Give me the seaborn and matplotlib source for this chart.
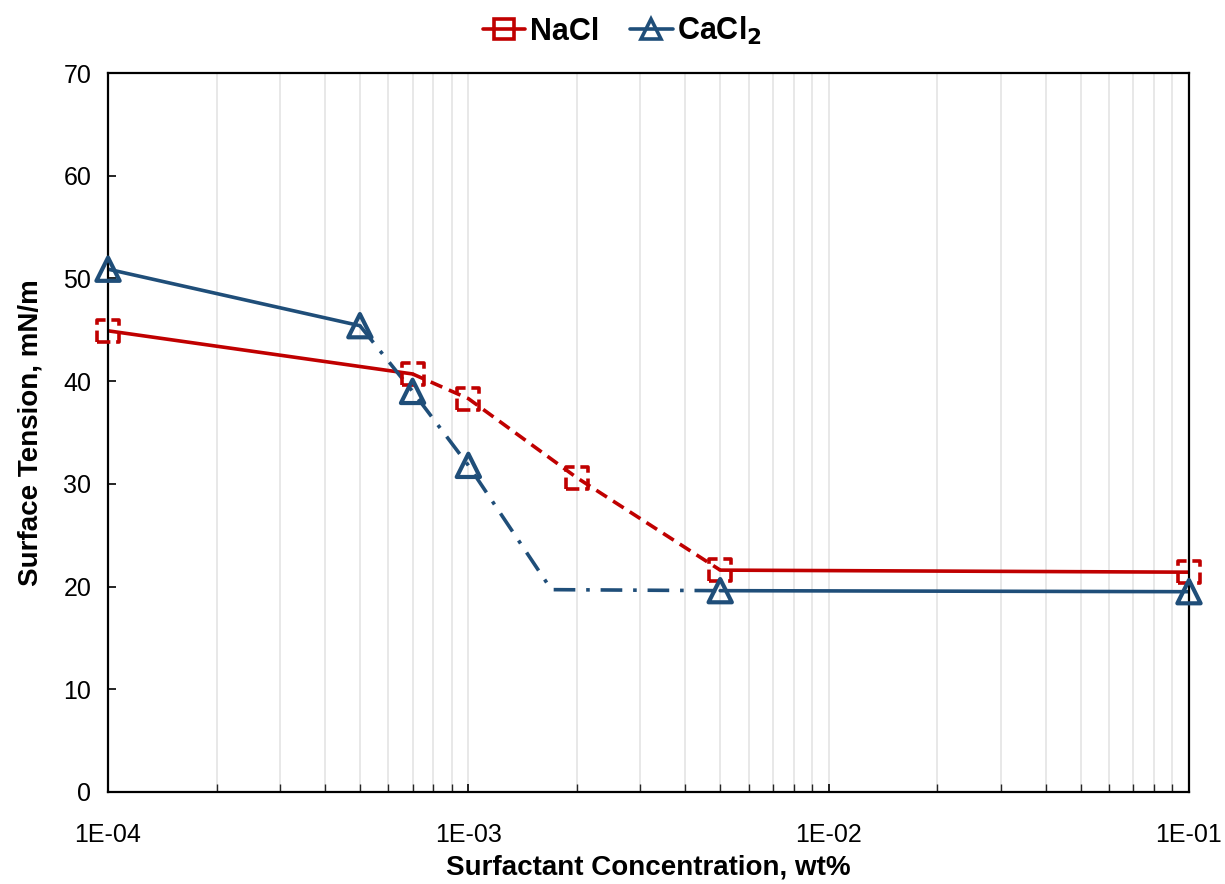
import matplotlib
matplotlib.use('Agg')
import matplotlib.pyplot as plt
from matplotlib.lines import Line2D
from matplotlib.ticker import LogLocator, NullFormatter
import seaborn as sns
import pandas as pd

# Data
nacl_conc = [1e-4, 7e-4, 1e-3, 2e-3, 5e-3, 0.1]
nacl_st = [44.9, 40.7, 38.3, 30.6, 21.6, 21.4]

cacl2_conc = [1e-4, 5e-4, 7e-4, 1e-3, 5e-3, 0.1]
cacl2_st = [50.9, 45.4, 39.0, 31.8, 19.6, 19.5]
# break point of the CaCl2 trend line (no marker)
cacl2_break_conc = 1.7e-3
cacl2_break_st = 19.7

x_ticks = [1e-4, 1e-3, 1e-2, 1e-1]
x_ticklabels = ['1E-04', '1E-03', '1E-02', '1E-01']
y_ticks = [0, 10, 20, 30, 40, 50, 60, 70]

red = '#c00000'
blue = '#1f4e79'

sns.set_style('white')
plt.rcParams['font.family'] = ['Liberation Sans', 'DejaVu Sans']
plt.rcParams['text.color'] = 'black'
plt.rcParams['axes.labelcolor'] = 'black'

fig = plt.figure(figsize=(12.25, 8.84), dpi=100)
ax = fig.add_axes([0.0882, 0.1041, 0.8824, 0.8133])

# NaCl segments: solid, dashed, solid
sns.lineplot(x=nacl_conc[0:2], y=nacl_st[0:2], ax=ax, color=red, lw=2.6, linestyle='-')
sns.lineplot(x=nacl_conc[1:5], y=nacl_st[1:5], ax=ax, color=red, lw=2.6, linestyle=(0, (3.5, 2)))
sns.lineplot(x=nacl_conc[4:6], y=nacl_st[4:6], ax=ax, color=red, lw=2.6, linestyle='-')

# CaCl2 segments: solid, dash-dot (through break point), solid
sns.lineplot(x=cacl2_conc[0:2], y=cacl2_st[0:2], ax=ax, color=blue, lw=2.6, linestyle='-')
dd_x = cacl2_conc[1:4] + [cacl2_break_conc, cacl2_conc[4]]
dd_y = cacl2_st[1:4] + [cacl2_break_st, cacl2_st[4]]
df_dd = pd.DataFrame({'x': dd_x, 'y': dd_y})
sns.lineplot(data=df_dd, x='x', y='y', ax=ax, color=blue, lw=2.6, linestyle=(0, (6, 3, 1, 3)),
             sort=False, estimator=None)
sns.lineplot(x=cacl2_conc[4:6], y=cacl2_st[4:6], ax=ax, color=blue, lw=2.6, linestyle='-')

# markers
sns.scatterplot(x=nacl_conc, y=nacl_st, ax=ax, marker='s', s=250, facecolor='none',
                edgecolor=red, linewidth=2.6, linestyle='--', zorder=5, clip_on=False)
sns.scatterplot(x=cacl2_conc, y=cacl2_st, ax=ax, marker='^', s=280, facecolor='none',
                edgecolor=blue, linewidth=3.0, zorder=6, clip_on=False)

ax.set_xscale('log')
ax.set_xlim(1e-4, 0.1)
ax.set_ylim(0, 70)
ax.set_xticks(x_ticks)
ax.set_xticklabels(x_ticklabels)
ax.xaxis.set_minor_locator(LogLocator(base=10, subs=range(2, 10), numticks=20))
ax.xaxis.set_minor_formatter(NullFormatter())
ax.set_yticks(y_ticks)

ax.grid(True, which='both', axis='x', color='#e4e4e4', lw=1.2)
ax.grid(False, axis='y')

for s in ax.spines.values():
    s.set_color('black')
    s.set_linewidth(1.6)
    s.set_visible(True)

ax.tick_params(axis='both', which='major', direction='in', length=6, width=1.2,
               labelsize=18, colors='black', labelcolor='black')
ax.tick_params(axis='x', which='minor', direction='in', length=6, width=1.0, bottom=True)
ax.tick_params(axis='x', which='both', top=False)
ax.tick_params(axis='y', which='both', right=False, left=True, pad=12)
ax.tick_params(axis='x', which='major', bottom=True, pad=22)

ax.set_xlabel('Surfactant Concentration, wt%', fontsize=20, fontweight='bold', labelpad=6)
ax.set_ylabel('Surface Tension, mN/m', fontsize=20, fontweight='bold', labelpad=14)

handles = [
    Line2D([0], [0], color=red, lw=2.6, marker='s', markersize=15, markerfacecolor='none',
           markeredgecolor=red, markeredgewidth=2.6),
    Line2D([0], [0], color=blue, lw=2.6, marker='^', markersize=15, markerfacecolor='none',
           markeredgecolor=blue, markeredgewidth=2.6),
]
fig.legend(handles, ['NaCl', 'CaCl$_\\mathbf{2}$'], loc='center', bbox_to_anchor=(0.508, 0.965),
           ncol=2, frameon=False, prop={'size': 22, 'weight': 'bold'},
           handlelength=1.4, handletextpad=0.15, columnspacing=1.0)

fig.savefig('out.png', dpi=100)
